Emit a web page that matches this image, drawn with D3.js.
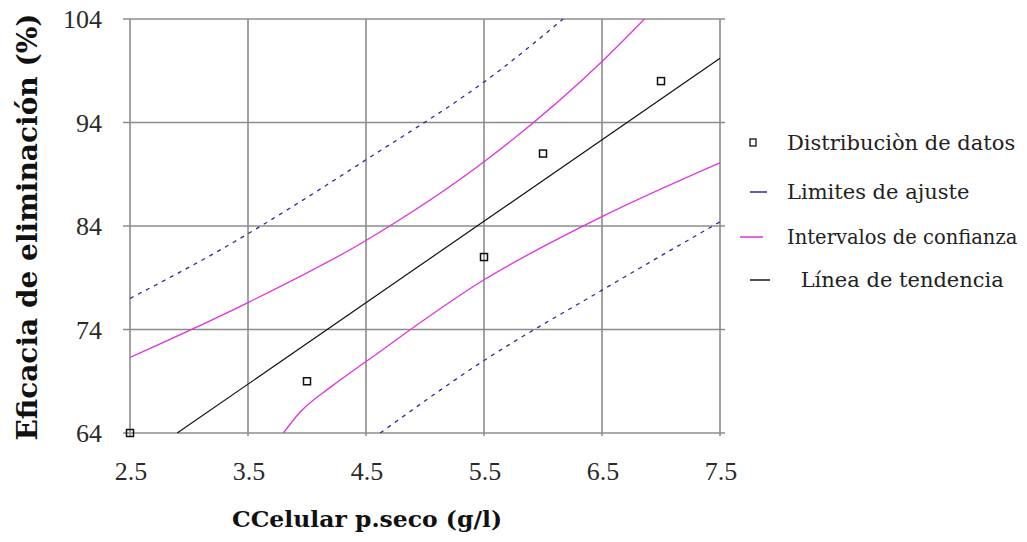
<!DOCTYPE html>
<html><head><meta charset="utf-8">
<script src="https://cdn.jsdelivr.net/npm/d3@7"></script>
<style>body{margin:0;background:#fff}svg{display:block}</style>
</head><body>
<svg id="c" width="1027" height="542"></svg>
<script>
// ---- data ----
const xTicks = [2.5, 3.5, 4.5, 5.5, 6.5, 7.5];
const yTicks = [64, 74, 84, 94, 104];
const dataX = [2.5, 4.0, 5.5, 6.0, 7.0];
const dataY = [64, 69, 81, 91, 98];
const trendX = [2.9, 7.5];
const trendY = [64, 100.2];
const fitUpX = [2.5, 3.22, 4.5, 5.64, 6.17];
const fitUpY = [77.0, 81.4, 90.4, 99.1, 104];
const fitLoX = [4.62, 5.5, 6.5, 7.5];
const fitLoY = [64, 71.0, 77.8, 84.4];
const confUpX = [2.5, 3.5, 4.5, 5.5, 6.5, 6.86];
const confUpY = [71.3, 76.6, 82.6, 90.2, 99.9, 104];
const confLoX = [3.80, 3.94, 4.22, 4.5, 5.5, 6.5, 7.5];
const confLoY = [64, 66.0, 68.6, 70.9, 78.8, 84.9, 90.1];
const legendLabels = ["Distribuciòn de datos", "Limites de ajuste", "Intervalos de confianza", " Línea de tendencia"];
const xTitle = "CCelular p.seco (g/l)";
const yTitle = "Eficacia de eliminación (%)";

const svg = d3.select("#c");
const x = d3.scaleLinear().domain([2.5, 7.5]).range([130, 720]);
const y = d3.scaleLinear().domain([64, 104]).range([433, 19]);
const serif = "'Liberation Serif','Times New Roman',serif";
const slab = "'DejaVu Serif',serif";
const gridCol = "#8c8c8c";

// grid
svg.append("g").selectAll("line").data(yTicks).join("line")
  .attr("x1", 123).attr("x2", 725).attr("y1", d => y(d)).attr("y2", d => y(d))
  .attr("stroke", gridCol).attr("stroke-width", 1.6);
svg.append("g").selectAll("line").data(xTicks).join("line")
  .attr("x1", d => x(d)).attr("x2", d => x(d)).attr("y1", y(104)).attr("y2", y(64) + 3)
  .attr("stroke", gridCol).attr("stroke-width", 1.6);

// tick labels
svg.append("g").selectAll("text").data(xTicks).join("text")
  .attr("x", d => x(d) + 1).attr("y", 480).attr("text-anchor", "middle")
  .attr("font-family", serif).attr("font-size", 26).attr("fill", "#2a2a2a")
  .text(d => d3.format(".1f")(d));
svg.append("g").selectAll("text").data(yTicks).join("text")
  .attr("x", 102).attr("y", d => y(d) + 9).attr("text-anchor", "end")
  .attr("font-family", serif).attr("font-size", 26).attr("fill", "#2a2a2a")
  .text(d => d);

// titles
svg.append("text").attr("x", 232).attr("y", 527).attr("text-anchor", "start")
  .attr("font-family", slab).attr("font-weight", "bold").attr("font-size", 23)
  .attr("textLength", 270).attr("lengthAdjust", "spacingAndGlyphs")
  .attr("fill", "#111").text(xTitle);
svg.append("text").attr("transform", "translate(37,227) rotate(-90)").attr("text-anchor", "middle")
  .attr("font-family", slab).attr("font-weight", "bold").attr("font-size", 28)
  .attr("fill", "#111").text(yTitle);

// clip
svg.append("clipPath").attr("id", "pc").append("rect")
  .attr("x", 130).attr("y", 19).attr("width", 590).attr("height", 414);
const plot = svg.append("g").attr("clip-path", "url(#pc)");
const line = d3.line().x(d => x(d[0])).y(d => y(d[1])).curve(d3.curveMonotoneX);
const zip = (a, b) => a.map((v, i) => [v, b[i]]);

plot.append("path").attr("d", line(zip(fitUpX, fitUpY))).attr("fill", "none")
  .attr("stroke", "#2b2b9a").attr("stroke-width", 1.3).attr("stroke-dasharray", "4,5");
plot.append("path").attr("d", line(zip(fitLoX, fitLoY))).attr("fill", "none")
  .attr("stroke", "#2b2b9a").attr("stroke-width", 1.3).attr("stroke-dasharray", "4,5");
plot.append("path").attr("d", line(zip(confUpX, confUpY))).attr("fill", "none")
  .attr("stroke", "#dd33dd").attr("stroke-width", 1.3);
plot.append("path").attr("d", line(zip(confLoX, confLoY))).attr("fill", "none")
  .attr("stroke", "#dd33dd").attr("stroke-width", 1.3);
plot.append("path").attr("d", line(zip(trendX, trendY))).attr("fill", "none")
  .attr("stroke", "#111").attr("stroke-width", 1.2);

// data squares
svg.append("g").selectAll("rect").data(zip(dataX, dataY)).join("rect")
  .attr("x", d => x(d[0]) - 3.5).attr("y", d => y(d[1]) - 3.5)
  .attr("width", 7).attr("height", 7).attr("fill", "none")
  .attr("stroke", "#111").attr("stroke-width", 1.5);

// legend
const lg = svg.append("g");
const rowsY = [150, 199, 244, 287];
lg.append("rect").attr("x", 750).attr("y", rowsY[0] - 11).attr("width", 6).attr("height", 7)
  .attr("fill", "none").attr("stroke", "#111").attr("stroke-width", 1.3);
lg.append("line").attr("x1", 750).attr("x2", 767).attr("y1", rowsY[1] - 7).attr("y2", rowsY[1] - 7)
  .attr("stroke", "#2b2b9a").attr("stroke-width", 1.5);
lg.append("line").attr("x1", 740).attr("x2", 763).attr("y1", rowsY[2] - 7).attr("y2", rowsY[2] - 7)
  .attr("stroke", "#dd33dd").attr("stroke-width", 1.5);
lg.append("line").attr("x1", 750).attr("x2", 770).attr("y1", rowsY[3] - 7).attr("y2", rowsY[3] - 7)
  .attr("stroke", "#111").attr("stroke-width", 1.5);
lg.selectAll("text").data(legendLabels).join("text")
  .attr("x", (d, i) => i === 3 ? 794 : 787).attr("y", (d, i) => rowsY[i])
  .attr("font-family", slab).attr("font-size", (d, i) => i === 2 ? 19.5 : 21).attr("fill", "#222")
  .attr("xml:space", "preserve").style("white-space", "pre")
  .text(d => d);
</script>
</body></html>
